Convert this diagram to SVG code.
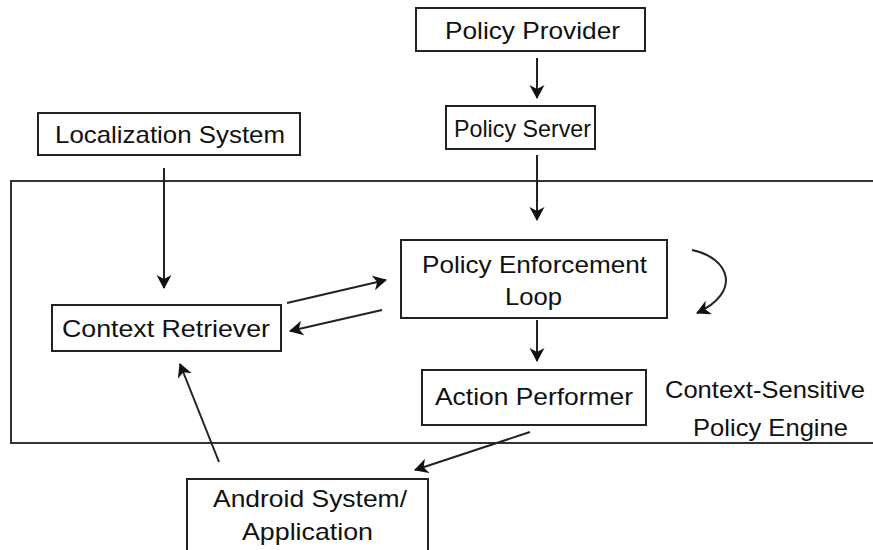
<svg xmlns="http://www.w3.org/2000/svg" width="873" height="550" viewBox="0 0 873 550">
  <style>
    .box { fill: #fff; stroke: #222; stroke-width: 2; }
    .lbl { font-family: "Liberation Sans", Arial, sans-serif; font-size: 24px; fill: #111; }
    .conn { fill: none; stroke: #222; stroke-width: 2; }
    .frame { fill: none; stroke: #333; stroke-width: 2; }
  </style>
  <defs>
    <marker id="arrow" markerWidth="16" markerHeight="16" refX="13" refY="7.5" orient="auto" markerUnits="userSpaceOnUse">
      <path d="M0,0 L14,7.5 L0,15 L4,7.5 Z" fill="#111"/>
    </marker>
  </defs>

  <!-- engine boundary (open on the right) -->
  <path class="frame" d="M873,181 H11 V443 H873"/>
  <text class="lbl" x="665" y="398" textLength="200" lengthAdjust="spacingAndGlyphs">Context-Sensitive</text>
  <text class="lbl" x="693" y="436" textLength="155" lengthAdjust="spacingAndGlyphs">Policy Engine</text>

  <g id="policy-provider">
    <rect class="box" x="416" y="8" width="229" height="43"/>
    <text class="lbl" x="445" y="39" textLength="175" lengthAdjust="spacingAndGlyphs">Policy Provider</text>
  </g>
  <g id="policy-server">
    <rect class="box" x="446" y="106" width="149" height="43"/>
    <text class="lbl" x="454" y="137" textLength="137" lengthAdjust="spacingAndGlyphs">Policy Server</text>
  </g>
  <g id="localization-system">
    <rect class="box" x="38" y="113" width="262" height="42"/>
    <text class="lbl" x="55" y="143" textLength="230" lengthAdjust="spacingAndGlyphs">Localization System</text>
  </g>
  <g id="policy-enforcement-loop">
    <rect class="box" x="401" y="240" width="266" height="78"/>
    <text class="lbl" x="422" y="273" textLength="225" lengthAdjust="spacingAndGlyphs">Policy Enforcement</text>
    <text class="lbl" x="505" y="305" textLength="57" lengthAdjust="spacingAndGlyphs">Loop</text>
  </g>
  <g id="context-retriever">
    <rect class="box" x="52" y="305" width="229" height="46"/>
    <text class="lbl" x="62" y="337" textLength="208" lengthAdjust="spacingAndGlyphs">Context Retriever</text>
  </g>
  <g id="action-performer">
    <rect class="box" x="422" y="370" width="224" height="55"/>
    <text class="lbl" x="435" y="405" textLength="198" lengthAdjust="spacingAndGlyphs">Action Performer</text>
  </g>
  <g id="android-system">
    <rect class="box" x="187" y="479" width="241" height="73"/>
    <text class="lbl" x="213" y="507" textLength="194" lengthAdjust="spacingAndGlyphs">Android System/</text>
    <text class="lbl" x="242" y="540" textLength="131" lengthAdjust="spacingAndGlyphs">Application</text>
  </g>

  <g id="connectors">
    <line class="conn" x1="537" y1="58" x2="537" y2="98" marker-end="url(#arrow)"/>
    <line class="conn" x1="537" y1="155" x2="537" y2="220" marker-end="url(#arrow)"/>
    <line class="conn" x1="164" y1="168" x2="164" y2="288" marker-end="url(#arrow)"/>
    <line class="conn" x1="287" y1="303" x2="386" y2="280" marker-end="url(#arrow)"/>
    <line class="conn" x1="382" y1="310" x2="290" y2="331" marker-end="url(#arrow)"/>
    <line class="conn" x1="537" y1="320" x2="537" y2="361" marker-end="url(#arrow)"/>
    <line class="conn" x1="530" y1="432" x2="415" y2="470" marker-end="url(#arrow)"/>
    <line class="conn" x1="219" y1="462" x2="180" y2="364" marker-end="url(#arrow)"/>
    <path class="conn" d="M692,250 C730,258 742,292 697,313" marker-end="url(#arrow)"/>
  </g>
</svg>
